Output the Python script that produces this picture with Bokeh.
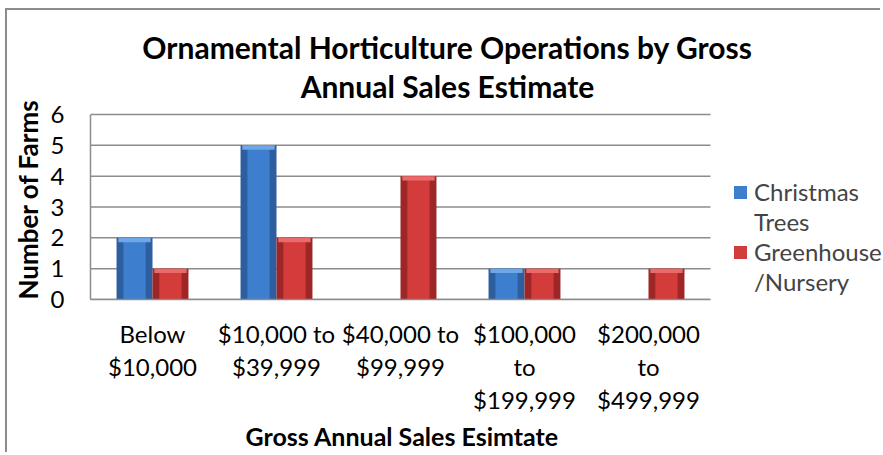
from bokeh.plotting import figure
from bokeh.models import Range1d, Legend, LegendItem, ColumnDataSource, FixedTicker, Label, Title
from bokeh.transform import dodge
from bokeh.embed import file_html
from bokeh.resources import INLINE

# ---- data ----
categories = ["Below\n$10,000", "$10,000 to\n$39,999", "$40,000 to\n$99,999",
              "$100,000\nto\n$199,999", "$200,000\nto\n$499,999"]
christmas_trees = [2, 5, 0, 1, 0]
greenhouse_nursery = [1, 2, 4, 1, 1]
legend_lines = [["Christmas", "Trees"], ["Greenhouse", "/Nursery"]]
y_ticks = [0, 1, 2, 3, 4, 5, 6]
title_lines = ["Ornamental Horticulture Operations by Gross", "Annual Sales Estimate"]
y_title = "Number of Farms"
x_title = "Gross Annual Sales Esimtate"

FONT = "Lato"
CAP = 0.14

# ---- layout (pixels) ----
W, H = 875, 444
FL, FT, FR, FB = 83, 4, 0, 155          # frame borders
PX_CAT = 124.0                           # pixels per category
PX_UNIT = 185.0 / (len(y_ticks) - 1)     # pixels per y unit
frame_w = W - FL - FR
frame_h = H - FT - FB
n = len(categories)
y_max = y_ticks[-1]

centers = [i + 0.5 for i in range(n)]
src = ColumnDataSource(dict(
    x=centers,
    ct=christmas_trees,
    gn=greenhouse_nursery,
    ct_cap=[v - CAP for v in christmas_trees],
    gn_cap=[v - CAP for v in greenhouse_nursery],
))

p = figure(width=W, height=H, x_range=Range1d(0, frame_w / PX_CAT), y_range=Range1d(0, frame_h / PX_UNIT),
           output_backend="svg", toolbar_location=None,
           min_border_left=FL, min_border_right=FR, min_border_top=FT, min_border_bottom=FB)
p.outline_line_color = None
p.background_fill_color = "white"
p.border_fill_color = "white"
p.styles = {"border-left": "2px solid #8c8c8c", "border-top": "2px solid #8c8c8c",
            "margin-left": "5px", "margin-top": "8px"}
p.xgrid.grid_line_color = None
p.ygrid.grid_line_color = None

# gridlines restricted to the plot area
p.segment(x0=[0] * len(y_ticks), x1=[n] * len(y_ticks), y0=y_ticks, y1=y_ticks,
          line_color="#8c8c8c", line_width=1.5)

# bars
bw = 0.29
off = 0.145
bx = dodge("x", -off)
rx = dodge("x", off)
blue_outer = p.vbar(x=bx, top="ct", width=bw, source=src, fill_color="#2d5e9f", line_color=None)
blue_inner = p.vbar(x=bx, top="ct", width=bw * 0.62, source=src, fill_color="#3d7ece", line_color=None)
p.vbar(x=bx, top="ct", bottom="ct_cap", width=bw * 0.9, source=src, fill_color="#6ea6e6", line_color=None)
red_outer = p.vbar(x=rx, top="gn", width=bw, source=src, fill_color="#9e2626", line_color=None)
red_inner = p.vbar(x=rx, top="gn", width=bw * 0.62, source=src, fill_color="#d43b3b", line_color=None)
p.vbar(x=rx, top="gn", bottom="gn_cap", width=bw * 0.9, source=src, fill_color="#e86a6a", line_color=None)
blank = p.vbar(x=bx, top="ct", width=bw, source=src, fill_alpha=0, line_alpha=0)

# axes
p.xaxis.ticker = FixedTicker(ticks=centers)
p.xaxis.major_label_overrides = {c: lab for c, lab in zip(centers, categories)}
p.xaxis.bounds = (0, n)
p.yaxis.ticker = FixedTicker(ticks=y_ticks)
p.yaxis.bounds = (0, y_max)
for ax in (p.xaxis, p.yaxis):
    ax.axis_line_color = "#8c8c8c"
    ax.axis_line_width = 1.5
    ax.major_tick_line_color = None
    ax.minor_tick_line_color = None
    ax.major_label_text_font = FONT
    ax.major_label_text_font_size = "24px"
    ax.major_label_text_color = "black"
p.yaxis.major_label_standoff = 20
p.xaxis.major_label_standoff = 13
p.xaxis.major_label_text_line_height = 1.15

# axis titles
p.add_layout(Title(text=y_title, align="left", offset=0, standoff=6, vertical_align="middle",
                   text_font=FONT, text_font_style="bold", text_font_size="26px",
                   text_color="black"), "left")
p.add_layout(Title(text=x_title, align="left", offset=155, standoff=5, vertical_align="middle",
                   text_font=FONT, text_font_style="bold", text_font_size="25px",
                   text_color="black"), "below")

# chart title (centred over the whole chart area)
for line, ypix in zip(title_lines, [46, 85]):
    p.add_layout(Label(x=447 - 90, y=299 - ypix, x_units="screen", y_units="screen", text=line,
                       text_font=FONT, text_font_style="bold", text_font_size="30px",
                       text_align="center", text_baseline="middle", text_color="black"))

# legend
legend = Legend(items=[LegendItem(label=legend_lines[0][0], renderers=[blue_outer, blue_inner]),
                       LegendItem(label=legend_lines[0][1], renderers=[blank]),
                       LegendItem(label=legend_lines[1][0], renderers=[red_outer, red_inner]),
                       LegendItem(label=legend_lines[1][1], renderers=[blank])],
                location=(642, 3), label_text_font=FONT, label_text_font_size="24px",
                glyph_width=16, glyph_height=16, padding=0, margin=0, spacing=1,
                label_standoff=6, border_line_color=None, background_fill_alpha=0)
p.add_layout(legend)

open("out.html", "w").write(file_html(p, INLINE))
